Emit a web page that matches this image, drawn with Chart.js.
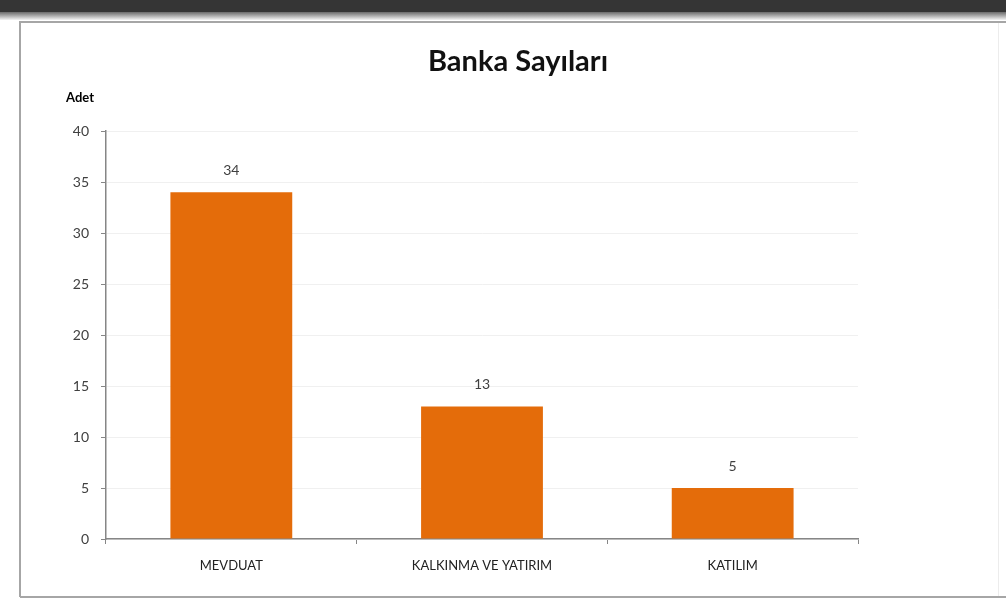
<!DOCTYPE html>
<html>
<head>
<meta charset="utf-8">
<script src="https://cdn.jsdelivr.net/npm/chart.js@4.4.0/dist/chart.umd.min.js"></script>
<style>
  html, body { margin: 0; padding: 0; background: #fff; }
  #wrap { width: 1006px; height: 601px; }
</style>
</head>
<body>
<div id="wrap"><canvas id="bankChart" width="1006" height="601"></canvas></div>
<script>
const categories = ["MEVDUAT", "KALKINMA VE YATIRIM", "KATILIM"];
const bankCounts = [34, 13, 5];
const yTicks = [0, 5, 10, 15, 20, 25, 30, 35, 40];
const chartTitle = "Banka Sayıları";
const yUnit = "Adet";

const fontFamily = "Lato, 'Open Sans', sans-serif";

// frame, top band, title, "Adet" and value labels
const framePlugin = {
  id: 'frame',
  beforeDraw(chart) {
    const c = chart.ctx;
    c.save();
    c.fillStyle = '#fff';
    c.fillRect(0, 0, chart.width, chart.height);
    c.fillStyle = '#353535';
    c.fillRect(0, 0, chart.width, 12);
    const g = c.createLinearGradient(0, 12, 0, 20);
    g.addColorStop(0, '#6a6a6a');
    g.addColorStop(1, '#f4f4f4');
    c.fillStyle = g;
    c.fillRect(0, 12, chart.width, 8);
    c.strokeStyle = '#a6a6a6';
    c.lineWidth = 2;
    c.beginPath();
    c.moveTo(20, 597);
    c.lineTo(20, 22);
    c.lineTo(chart.width, 22);
    c.moveTo(20, 597);
    c.lineTo(chart.width, 597);
    c.stroke();
    c.strokeStyle = '#ececec';
    c.lineWidth = 1;
    c.beginPath();
    c.moveTo(998.5, 23);
    c.lineTo(998.5, 596);
    c.stroke();

    c.fillStyle = '#111';
    c.font = "bold 29px " + fontFamily;
    c.textAlign = 'center';
    c.textBaseline = 'middle';
    c.fillText(chartTitle, 518, 62);
    c.restore();
  },
  afterDatasetsDraw(chart) {
    const c = chart.ctx;
    c.save();
    c.fillStyle = '#000';
    c.font = "bold 13px " + fontFamily;
    c.textAlign = 'left';
    c.textBaseline = 'middle';
    c.fillText(yUnit, 66, 98);
    c.fillStyle = '#404040';
    c.font = "14px " + fontFamily;
    c.textAlign = 'center';
    c.textBaseline = 'bottom';
    chart.getDatasetMeta(0).data.forEach((bar, i) => {
      c.fillText(String(bankCounts[i]), bar.x, bar.y - 15);
    });
    c.restore();
  }
};

new Chart(document.getElementById('bankChart'), {
  type: 'bar',
  data: {
    labels: categories,
    datasets: [{
      data: bankCounts,
      backgroundColor: '#E46C0A',
      borderWidth: 0,
      categoryPercentage: 1,
      barPercentage: 0.486
    }]
  },
  options: {
    responsive: false,
    animation: false,
    layout: { padding: { left: 0, right: 148, top: 131, bottom: 0 } },
    plugins: {
      legend: { display: false },
      tooltip: { enabled: false },
      title: { display: false }
    },
    scales: {
      x: {
        grid: { display: true, drawOnChartArea: false, tickLength: 5, tickColor: '#868686', offset: true },
        border: { color: '#868686', width: 1.5 },
        ticks: { color: '#222', font: { family: fontFamily, size: 13 }, padding: 14 },
        afterFit(scale) { scale.height = 62; }
      },
      y: {
        min: 0,
        max: 40,
        afterBuildTicks(scale) { scale.ticks = yTicks.map(v => ({ value: v })); },
        grid: { color: '#f0f0f0', tickLength: 5, tickColor: '#868686' },
        border: { color: '#868686', width: 1.5 },
        ticks: { color: '#404040', font: { family: fontFamily, size: 14 }, padding: 12 },
        afterFit(scale) { scale.width = 106; }
      }
    }
  },
  plugins: [framePlugin]
});
</script>
</body>
</html>
